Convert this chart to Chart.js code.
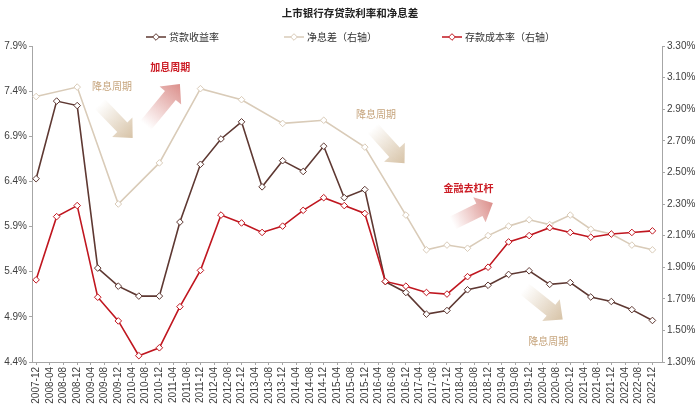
<!DOCTYPE html>
<html>
<head>
<meta charset="utf-8">
<script src="https://cdn.jsdelivr.net/npm/chart.js@4/dist/chart.umd.min.js"></script>
<style>
  html, body { margin: 0; padding: 0; background: #fff; }
  #wrap { width: 700px; height: 420px; }
</style>
</head>
<body>
<div id="wrap"><canvas id="myChart"></canvas></div>
<script>
// 数据（半年度），净息差前期为年度数据
const periods = ["2007-12", "2008-06", "2008-12", "2009-06", "2009-12", "2010-06", "2010-12", "2011-06", "2011-12", "2012-06",
    "2012-12", "2013-06", "2013-12", "2014-06", "2014-12", "2015-06", "2015-12", "2016-06", "2016-12", "2017-06",
    "2017-12", "2018-06", "2018-12", "2019-06", "2019-12", "2020-06", "2020-12", "2021-06", "2021-12", "2022-06", "2022-12"];
const loanYield = [6.43, 7.29, 7.24, 5.44, 5.24, 5.13, 5.13, 5.95, 6.59, 6.87,
    7.06, 6.34, 6.63, 6.51, 6.79, 6.22, 6.31, 5.29, 5.17, 4.93,
    4.97, 5.20, 5.25, 5.37, 5.41, 5.26, 5.28, 5.12, 5.07, 4.98, 4.86];
const netInterestMargin = [2.98, null, 3.04, null, 2.30, null, 2.56, null, 3.03, null,
    2.96, null, 2.81, null, 2.83, null, 2.66, null, 2.23, 2.01,
    2.04, 2.02, 2.10, 2.16, 2.20, 2.17, 2.23, 2.14, 2.11, 2.04, 2.01];
const depositCost = [1.82, 2.22, 2.29, 1.71, 1.56, 1.34, 1.39, 1.65, 1.88, 2.23,
    2.18, 2.12, 2.16, 2.26, 2.34, 2.29, 2.24, 1.81, 1.78, 1.74,
    1.73, 1.84, 1.90, 2.06, 2.10, 2.15, 2.12, 2.09, 2.11, 2.12, 2.13];
const seriesNames = ["贷款收益率", "净息差（右轴）", "存款成本率（右轴）"];
const leftTicks = { min: 4.4, max: 7.9, step: 0.5 };
const rightTicks = { min: 1.3, max: 3.3, step: 0.2 };
const tickEveryMonths = 4;

// 注释文字和箭头（x=距2007-12的月数，y=左轴数值）
const noteTexts = ["降息周期", "加息周期", "降息周期", "金融去杠杆", "降息周期"];
const noteKinds = ["cut", "hike", "cut", "hike", "cut"];
const notePos = [[22.2, 7.46], [39.2, 7.66], [99.3, 7.14], [126.3, 6.32], [149.6, 4.63]];
const arrowKinds = ["cut", "hike", "cut", "hike", "cut"];
const arrowFrom = [[18.6, 7.26], [32.0, 7.02], [98.3, 6.99], [121.6, 5.94], [142.6, 5.21]];
const arrowTo = [[28.2, 6.88], [42.0, 7.48], [107.6, 6.60], [133.4, 6.16], [153.8, 4.87]];

const brown = "#5e3832";
const beige = "#d9cbb8";
const red = "#c0161f";
const axisColor = "#a6a6a6";
const fontFamily = "'Liberation Sans', Arial, 'Noto Sans CJK SC', sans-serif";
const cjkFont = "'Noto Sans CJK SC', sans-serif";

function monthIndex(p) {
    let parts = p.split("-");
    return (parseInt(parts[0]) * 12 + parseInt(parts[1]) - 1) - (2007 * 12 + 11);
}
function monthLabel(m) {
    let total = 2007 * 12 + 11 + m;
    let y = Math.floor(total / 12);
    let mo = total % 12 + 1;
    return y + "-" + (mo < 10 ? "0" + mo : mo);
}
function toPoints(arr) {
    let pts = [];
    for (let i = 0; i < periods.length; i++) {
        pts.push({ x: monthIndex(periods[i]), y: arr[i] });
    }
    return pts;
}
let xTickValues = [];
for (let m = 0; m <= monthIndex("2022-12"); m += tickEveryMonths) xTickValues.push(m);

function lineDataset(label, data, color, axis, order) {
    return {
        label: label,
        data: toPoints(data),
        yAxisID: axis,
        borderColor: color,
        borderWidth: 1.6,
        pointStyle: "rectRot",
        pointRadius: 3.3,
        pointBorderWidth: 1,
        pointBackgroundColor: "#fff",
        pointBorderColor: color,
        spanGaps: true,
        tension: 0,
        order: order
    };
}

function drawArrow(ctx, x1, y1, x2, y2, rgb) {
    let len = Math.hypot(x2 - x1, y2 - y1);
    let ang = Math.atan2(y2 - y1, x2 - x1);
    let sw = 14, hw = 28, hl = 15;
    ctx.save();
    ctx.translate(x1, y1);
    ctx.rotate(ang);
    let g = ctx.createLinearGradient(0, 0, len, 0);
    g.addColorStop(0, "rgba(" + rgb + ",0)");
    g.addColorStop(1, "rgba(" + rgb + ",0.8)");
    ctx.fillStyle = g;
    ctx.beginPath();
    ctx.moveTo(0, -sw / 2);
    ctx.lineTo(len - hl, -sw / 2);
    ctx.lineTo(len - hl, -hw / 2);
    ctx.lineTo(len, 0);
    ctx.lineTo(len - hl, hw / 2);
    ctx.lineTo(len - hl, sw / 2);
    ctx.lineTo(0, sw / 2);
    ctx.closePath();
    ctx.fill();
    ctx.restore();
}

// 箭头和文字
const notesPlugin = {
    id: "notes",
    beforeDatasetsDraw(chart) {
        let ctx = chart.ctx;
        let xs = chart.scales.x, ys = chart.scales.y;
        for (let i = 0; i < arrowFrom.length; i++) {
            let rgb = arrowKinds[i] === "cut" ? "205,180,145" : "210,115,110";
            drawArrow(ctx, xs.getPixelForValue(arrowFrom[i][0]), ys.getPixelForValue(arrowFrom[i][1]),
                xs.getPixelForValue(arrowTo[i][0]), ys.getPixelForValue(arrowTo[i][1]), rgb);
        }
        ctx.save();
        ctx.textAlign = "center";
        ctx.textBaseline = "middle";
        for (let i = 0; i < noteTexts.length; i++) {
            ctx.fillStyle = noteKinds[i] === "cut" ? "#c6a47c" : "#cc1d26";
            ctx.font = (noteKinds[i] === "cut" ? "" : "bold ") + "10px " + cjkFont;
            ctx.fillText(noteTexts[i], xs.getPixelForValue(notePos[i][0]), ys.getPixelForValue(notePos[i][1]));
        }
        ctx.restore();
    },
    afterDraw(chart) {
        // 标题和图例
        let ctx = chart.ctx;
        ctx.save();
        ctx.fillStyle = "#222";
        ctx.font = "bold 10.5px " + cjkFont;
        ctx.textAlign = "center";
        ctx.textBaseline = "middle";
        ctx.fillText("上市银行存贷款利率和净息差", 350, 13);

        ctx.font = "10px " + cjkFont;
        ctx.textAlign = "left";
        let gap = 65, markW = 20;
        let widths = chart.data.datasets.map(d => markW + 3 + ctx.measureText(d.label).width);
        let total = widths.reduce((a, b) => a + b, 0) + gap * (widths.length - 1);
        let x = 350.5 - total / 2;
        let y = 37;
        chart.data.datasets.forEach((d, i) => {
            ctx.strokeStyle = d.borderColor;
            ctx.lineWidth = 1.5;
            ctx.beginPath();
            ctx.moveTo(x, y);
            ctx.lineTo(x + markW, y);
            ctx.stroke();
            let cx = x + markW / 2, r = 3.3;
            ctx.beginPath();
            ctx.moveTo(cx, y - r);
            ctx.lineTo(cx + r, y);
            ctx.lineTo(cx, y + r);
            ctx.lineTo(cx - r, y);
            ctx.closePath();
            ctx.fillStyle = "#fff";
            ctx.fill();
            ctx.lineWidth = 1;
            ctx.stroke();
            ctx.fillStyle = "#333";
            ctx.fillText(d.label, x + markW + 3, y);
            x += widths[i] + gap;
        });
        ctx.restore();
    }
};

const canvas = document.getElementById("myChart");
const chartObj = new Chart(canvas, {
    type: "line",
    data: {
        datasets: [
            lineDataset(seriesNames[0], loanYield, brown, "y", 3),
            lineDataset(seriesNames[1], netInterestMargin, beige, "y1", 2),
            lineDataset(seriesNames[2], depositCost, red, "y1", 1)
        ]
    },
    options: {
        responsive: true,
        maintainAspectRatio: false,
        animation: false,
        layout: { padding: { top: 46, left: 0, right: 0, bottom: 0 } },
        plugins: {
            legend: { display: false },
            title: { display: false },
            tooltip: { enabled: false }
        },
        scales: {
            x: {
                type: "linear",
                min: -1.2,
                max: 182.8,
                afterBuildTicks: (scale) => { scale.ticks = xTickValues.map(v => ({ value: v })); },
                afterFit: (scale) => { scale.height = 58; },
                grid: { drawOnChartArea: false, drawTicks: true, tickLength: 3, color: axisColor },
                border: { color: axisColor },
                ticks: {
                    autoSkip: false,
                    minRotation: 90,
                    maxRotation: 90,
                    padding: 2,
                    color: "#404040",
                    font: { family: fontFamily, size: 10 },
                    callback: (v) => monthLabel(v)
                }
            },
            y: {
                position: "left",
                min: leftTicks.min,
                max: leftTicks.max,
                afterFit: (scale) => { scale.width = 32; },
                grid: { drawOnChartArea: false, drawTicks: true, tickLength: 3, color: axisColor },
                border: { color: axisColor },
                ticks: {
                    stepSize: leftTicks.step,
                    padding: 2,
                    color: "#404040",
                    font: { family: fontFamily, size: 10 },
                    callback: (v) => v.toFixed(1) + "%"
                }
            },
            y1: {
                position: "right",
                min: rightTicks.min,
                max: rightTicks.max,
                afterFit: (scale) => { scale.width = 38; },
                grid: { drawOnChartArea: false, drawTicks: true, tickLength: 3, color: axisColor },
                border: { color: axisColor },
                ticks: {
                    stepSize: rightTicks.step,
                    padding: 2,
                    color: "#404040",
                    font: { family: fontFamily, size: 10 },
                    callback: (v) => v.toFixed(2) + "%"
                }
            }
        }
    },
    plugins: [notesPlugin]
});
</script>
</body>
</html>
